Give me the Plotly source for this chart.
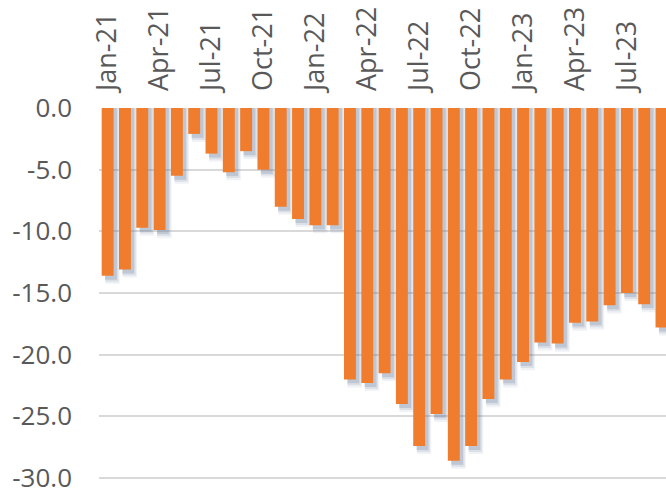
import plotly.graph_objects as go

# Monthly series, Jan-21 .. Sep-23
months = [
    "Jan-21", "Feb-21", "Mar-21", "Apr-21", "May-21", "Jun-21",
    "Jul-21", "Aug-21", "Sep-21", "Oct-21", "Nov-21", "Dec-21",
    "Jan-22", "Feb-22", "Mar-22", "Apr-22", "May-22", "Jun-22",
    "Jul-22", "Aug-22", "Sep-22", "Oct-22", "Nov-22", "Dec-22",
    "Jan-23", "Feb-23", "Mar-23", "Apr-23", "May-23", "Jun-23",
    "Jul-23", "Aug-23", "Sep-23",
]
values = [
    -13.6, -13.1, -9.7, -9.9, -5.5, -2.1,
    -3.7, -5.2, -3.5, -5.0, -8.0, -9.0,
    -9.5, -9.5, -22.0, -22.3, -21.5, -24.0,
    -27.4, -24.8, -28.6, -27.4, -23.6, -22.0,
    -20.6, -19.0, -19.1, -17.4, -17.3, -16.0,
    -15.0, -15.9, -17.8,
]
tick_labels = months[::3]
y_ticks = [0, -5, -10, -15, -20, -25, -30]
y_tick_text = ["0.0", "-5.0", "-10.0", "-15.0", "-20.0", "-25.0", "-30.0"]

BAR_COLOR = "#F07D2E"
TEXT_COLOR = "#595959"
GRID_COLOR = "#D9D9D9"
FONT = "Open Sans"

bar_w = 0.69

fig = go.Figure()

# soft drop shadow: a few translucent layers shifted right and down
shadow_layers = [
    # (x shift, extra depth, extra width, rgba)
    (0.28, 0.65, 0.14, "rgba(110,130,160,0.10)"),
    (0.24, 0.48, 0.07, "rgba(110,130,160,0.16)"),
    (0.19, 0.32, 0.00, "rgba(100,120,150,0.24)"),
]
for dx, dy, dw, col in shadow_layers:
    fig.add_trace(go.Bar(
        x=months,
        y=[v - dy for v in values],
        base=0,
        width=bar_w + dw,
        offset=-bar_w / 2 + dx - dw / 2,
        marker=dict(color=col, line=dict(width=0)),
        hoverinfo="skip",
        showlegend=False,
    ))

fig.add_trace(go.Bar(
    x=months,
    y=values,
    width=bar_w,
    offset=-bar_w / 2,
    marker=dict(color=BAR_COLOR, line=dict(width=0)),
    showlegend=False,
))

fig.update_layout(
    width=666,
    height=495,
    margin=dict(l=99, r=0, t=108, b=7),
    paper_bgcolor="white",
    plot_bgcolor="white",
    barmode="overlay",
    font=dict(family=FONT, color=TEXT_COLOR, size=24),
    xaxis=dict(
        type="category",
        categoryorder="array",
        categoryarray=months,
        side="top",
        tickmode="array",
        tickvals=tick_labels,
        ticktext=tick_labels,
        tickangle=-90,
        ticks="",
        ticklabelstandoff=16,
        showgrid=False,
        showline=False,
        zeroline=False,
        range=[-0.5, 32.26],
        tickfont=dict(family=FONT, size=27, color=TEXT_COLOR),
    ),
    yaxis=dict(
        range=[-30.4, 0],
        tickmode="array",
        tickvals=y_ticks,
        ticktext=y_tick_text,
        ticks="",
        ticklabelstandoff=26,
        ticklabeloverflow="allow",
        showgrid=True,
        gridcolor=GRID_COLOR,
        gridwidth=2,
        zeroline=False,
        showline=False,
        tickfont=dict(family=FONT, size=26, color=TEXT_COLOR),
    ),
)

fig.write_html("out.html")
